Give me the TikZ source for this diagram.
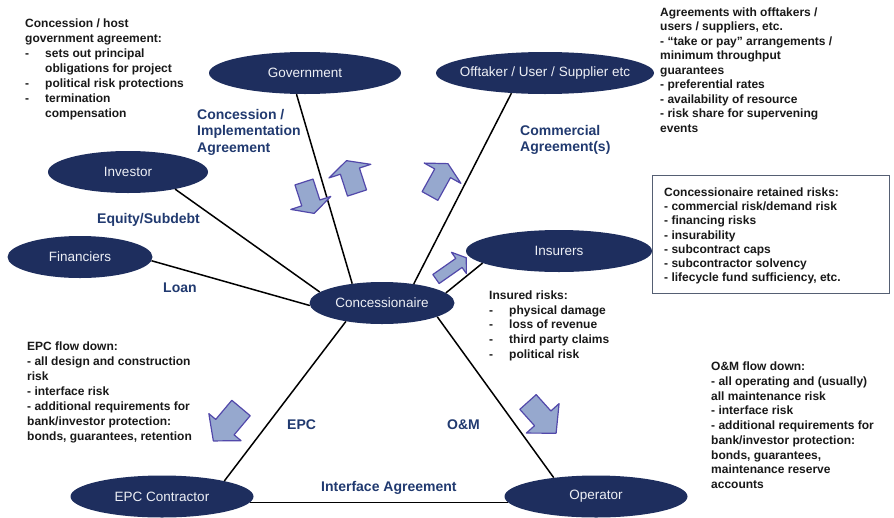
\documentclass[tikz,border=0pt]{standalone}
\usepackage{fontspec}
\setmainfont{Liberation Sans}
\usetikzlibrary{shapes.geometric}
\definecolor{navy}{RGB}{30,46,94}
\definecolor{afill}{RGB}{150,168,206}
\definecolor{aedge}{RGB}{82,72,170}
\definecolor{lblue}{RGB}{33,58,112}
\definecolor{boxc}{RGB}{85,95,115}
\definecolor{txt}{RGB}{25,25,25}
\definecolor{ptextc}{RGB}{238,240,246}
\newcommand\dashitem[1]{\makebox[20pt][l]{-}#1}
\newcommand\indentline[1]{\hspace*{20pt}#1}
% x y angle length shafthalf headhalf headlength
\newcommand\blockarrow[7]{%
  \draw[barrow, shift={(#1,#2)}, rotate=#3]
    (0,-#5) -- ({#4-#7},-#5) -- ({#4-#7},-#6) -- (#4,0) -- ({#4-#7},#6) -- ({#4-#7},#5) -- (0,#5) -- cycle;}
\tikzset{
  party/.style={ellipse, fill=navy, draw=none, inner sep=0pt, minimum height=42pt, minimum width=#1},
  ptext/.style={text=ptextc, font=\fontsize{13.5}{16}\selectfont, inner sep=0pt},
  body/.style={anchor=north west, inner sep=0pt, align=left, text=txt, font=\fontsize{12}{#1}\selectfont\bfseries},
  link/.style={line width=1.5pt, black},
  lbl/.style={anchor=base west, inner sep=0pt, text=lblue, font=\fontsize{14}{16.5}\selectfont\bfseries},
  lblblock/.style={anchor=north west, inner sep=0pt, align=left, text=lblue, font=\fontsize{14}{#1}\selectfont\bfseries},
  barrow/.style={fill=afill, draw=aedge, line width=1.2pt, line join=round}
}
\begin{document}
\begin{tikzpicture}[x=1pt,y=-1pt]
\fill[white] (0,0) rectangle (894,517);
\useasboundingbox (0,0) rectangle (894,517);

% parties
\node[party=192pt, label={[ptext]center:Government}] (gov) at (305,73) {};
\node[party=218pt, label={[ptext]center:Offtaker / User / Supplier etc}] (off) at (545,73) {};
\node[party=160pt, label={[ptext]center:Investor}] (inv) at (128,172) {};
\node[party=145pt, label={[ptext]center:Financiers}] (fin) at (80,257) {};
\node[party=145pt, label={[ptext]center:Concessionaire}] (con) at (382,303) {};
\node[party=186pt, label={[ptext]center:Insurers}] (ins) at (559,251) {};
\node[party=183pt, label={[ptext]center:EPC Contractor}] (epc) at (162,496.5) {};
\node[party=183pt, label={[ptext]center:Operator}] (opr) at (596,496.5) {};

% connectors
\draw[link] (gov.248) -- (con.147.5);
\draw[link] (off.211.6) -- (con.31.5);
\draw[link] (inv.-20) -- (con.170);
\draw[link] (fin.-3) -- (con.182);
\draw[link] (con.9.4) -- (ins.189.5);
\draw[link] (con.207.7) -- (epc.14);
\draw[link] (con.-14.5) -- (opr.156.7);
\draw[link] (epc.-4.7) -- (opr.184.7);

% block arrows
\blockarrow{304}{182}{-72}{33}{9.5}{21}{11}
\blockarrow{357}{193}{108}{34}{10}{22}{11}
\blockarrow{430}{196}{61}{37}{9}{21}{11}
\blockarrow{436}{279}{35}{37}{5.5}{13}{9}
\blockarrow{241}{408}{230}{43}{12}{21}{18}
\blockarrow{528}{402}{-48}{42}{11}{22}{20}

% connector labels
\node[lblblock=16.5] (lconc) at (197,107.5) {\strut Concession /\\Implementation\\Agreement};
\node[lblblock=16] (lcomm) at (520,123.8) {\strut Commercial\\Agreement(s)};
\node[lbl] (lequity) at (97,223) {Equity/Subdebt};
\node[lbl] (lloan) at (163,292) {Loan};
\node[lbl] (lepc) at (287,429) {EPC};
\node[lbl] (lom) at (447,429) {O\&M};
\node[lbl] (lint) at (321,491) {Interface Agreement};

% text blocks
\node[body=15] (tgov) at (25,16.5) {\strut Concession / host\\government agreement:\\\dashitem{sets out principal}\\\indentline{obligations for project}\\\dashitem{political risk protections}\\\dashitem{termination}\\\indentline{compensation}};

\node[body=14.5] (toff) at (660,5.9) {\strut Agreements with offtakers /\\users / suppliers, etc.\\- “take or pay” arrangements /\\minimum throughput\\guarantees\\- preferential rates\\- availability of resource\\- risk share for supervening\\events};

\node[draw=boxc, line width=1.3pt, anchor=north west, minimum width=237pt, minimum height=118pt, inner sep=0pt] (riskbox) at (652,175) {};
\node[body=14.2] (trisk) at (664,186.4) {\strut Concessionaire retained risks:\\- commercial risk/demand risk\\- financing risks\\- insurability\\- subcontract caps\\- subcontractor solvency\\- lifecycle fund sufficiency, etc.};

\node[body=14.7] (tins) at (489,289) {\strut Insured risks:\\\dashitem{physical damage}\\\dashitem{loss of revenue}\\\dashitem{third party claims}\\\dashitem{political risk}};

\node[body=14.75] (tom) at (711,360) {\strut O\&M flow down:\\- all operating and (usually)\\all maintenance risk\\- interface risk\\- additional requirements for\\bank/investor protection:\\bonds, guarantees,\\maintenance reserve\\accounts};

\node[body=15] (tepc) at (27,339.8) {\strut EPC flow down:\\- all design and construction\\risk\\- interface risk\\- additional requirements for\\bank/investor protection:\\bonds, guarantees, retention};
\end{tikzpicture}
\end{document}
